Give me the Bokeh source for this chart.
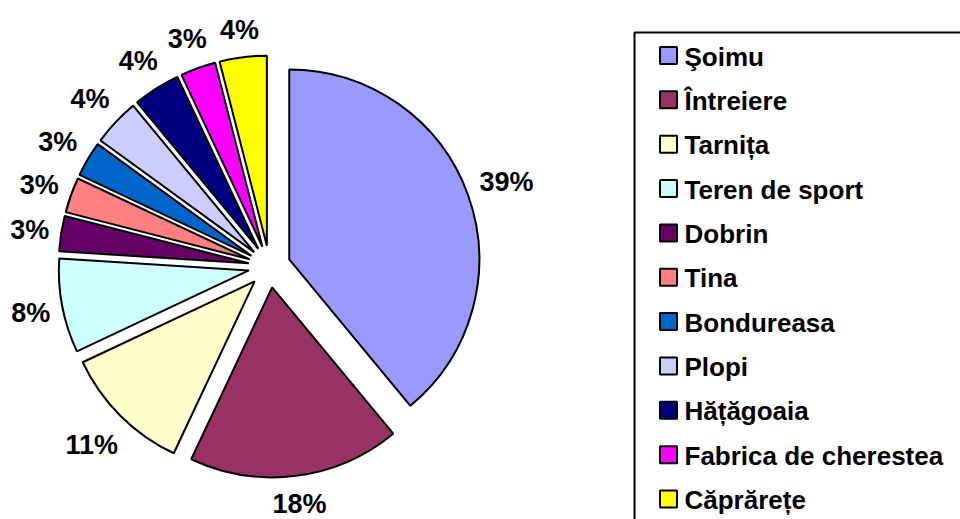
import math
from bokeh.plotting import figure
from bokeh.models import ColumnDataSource, Range1d
from bokeh.core.properties import value
from bokeh.embed import file_html
from bokeh.resources import INLINE

# ---- data ----
categories = ["Şoimu", "Întreiere", "Tarnița", "Teren de sport", "Dobrin", "Tina",
              "Bondureasa", "Plopi", "Hățăgoaia", "Fabrica de cherestea", "Căprărețe"]
shares = [39, 18, 11, 8, 3, 3, 3, 4, 4, 3, 4]
colors = ["#9999FF", "#993366", "#FFFFCC", "#CCFFFF", "#660066", "#FF8080",
          "#0066CC", "#CCCCFF", "#000080", "#FF00FF", "#FFFF00"]

# ---- layout (page pixels -> data units, y up) ----
W, H = 960, 519
def dx(X): return X
def dy(Y): return H - Y

cx, cy = dx(269), dy(266)
R = 190
EXPLODE = 21
FONT = "Liberation Sans"
LBL_SIZE = 27
LEG_SIZE = 26

p = figure(width=W, height=H, output_backend="svg", toolbar_location=None,
           x_range=Range1d(0, W), y_range=Range1d(0, H), min_border=0)
p.axis.visible = False
p.grid.visible = False
p.outline_line_color = None
p.background_fill_color = "white"
p.border_fill_color = "white"

total = float(sum(shares))
xs, ys, sa, ea, lx, ly, lt = [], [], [], [], [], [], []
cum = 0.0
for s, name in zip(shares, categories):
    a0 = math.radians(90 - 360 * cum / total)
    cum += s
    a1 = math.radians(90 - 360 * cum / total)
    mid = (a0 + a1) / 2
    ux, uy = math.cos(mid), math.sin(mid)
    tx, ty = cx + EXPLODE * ux, cy + EXPLODE * uy
    xs.append(tx); ys.append(ty)
    sa.append(a1); ea.append(a0)
    txt = f"{round(100 * s / total)}%"
    w = LBL_SIZE * (0.556 * (len(txt) - 1) + 0.889)
    d = R + 10 + (w / 2) * abs(ux) + 16 * abs(uy)
    lx.append(tx + d * ux)
    ly.append(max(ty + d * uy - 1, 16))
    lt.append(txt)

src = ColumnDataSource(dict(x=xs, y=ys, start=sa, end=ea, color=colors))
p.wedge(x="x", y="y", radius=R, start_angle="start", end_angle="end",
        direction="anticlock", fill_color="color", line_color="black",
        line_width=2, source=src)

p.text(x=lx, y=ly, text=lt, text_font=value(FONT), text_font_style="bold",
       text_font_size=f"{LBL_SIZE}px", text_align="center", text_baseline="middle",
       text_color="black")

# ---- legend ----
p.quad(left=[dx(634)], right=[W + 20], top=[dy(32)], bottom=[-20],
       fill_color=None, line_color="black", line_width=2)
row0 = dy(55)
step = 44.35
leg_y = [row0 - i * step for i in range(len(categories))]
p.rect(x=[dx(668)] * len(categories), y=leg_y, width=17, height=17,
       fill_color=colors, line_color="black", line_width=2)
p.text(x=[dx(684)] * len(categories), y=[v - 1 for v in leg_y], text=categories,
       text_font=value(FONT), text_font_style="bold", text_font_size=f"{LEG_SIZE}px",
       text_align="left", text_baseline="middle", text_color="black")

open("out.html", "w").write(file_html(p, INLINE))
